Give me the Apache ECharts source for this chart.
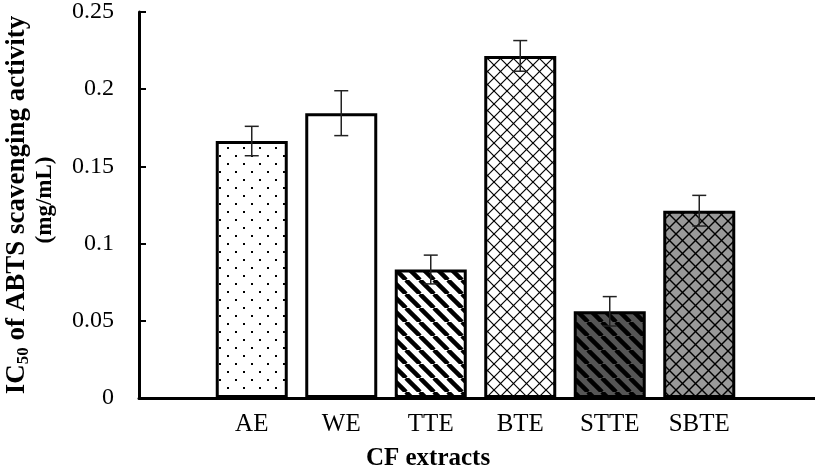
<!DOCTYPE html>
<html>
<head>
<meta charset="utf-8">
<script src="https://cdn.jsdelivr.net/npm/echarts@6/dist/echarts.min.js"></script>
<style>html,body{margin:0;padding:0;background:#fff}#c{width:815px;height:474px}</style>
</head>
<body>
<div id="c"></div>
<script>
const categories = ['AE', 'WE', 'TTE', 'BTE', 'STTE', 'SBTE'];
const values = [0.166, 0.184, 0.083, 0.221, 0.056, 0.121];
const errors = [0.0095, 0.0145, 0.0093, 0.0099, 0.0095, 0.0099];
const yMin = 0, yMax = 0.25, yStep = 0.05;
const xTitle = 'CF extracts';
const yTitleMain = 'IC';
const yTitleSub = '50';
const yTitleRest = ' of ABTS scavenging activity';
const yTitleLine2 = '(mg/mL)';

function makeTile(size, bg, draw) {
  const c = document.createElement('canvas');
  c.width = size; c.height = size;
  const g = c.getContext('2d');
  g.fillStyle = bg; g.fillRect(0, 0, size, size);
  draw(g, size);
  return c;
}
function dots(g, s) {
  g.fillStyle = '#000';
  g.fillRect(3, 3, 2, 2);
  g.fillRect(11, 11, 2, 2);
}
function stripes(w) {
  return function (g, s) {
    g.strokeStyle = '#000'; g.lineWidth = w;
    for (let k = -1; k <= 1; k++) {
      g.beginPath(); g.moveTo(k * s, 0); g.lineTo(k * s + s, s); g.stroke();
    }
  };
}
function cross(w) {
  return function (g, s) {
    g.strokeStyle = '#000'; g.lineWidth = w;
    g.beginPath(); g.moveTo(0, 0); g.lineTo(s, s); g.stroke();
    g.beginPath(); g.moveTo(0, s); g.lineTo(s, 0); g.stroke();
  };
}
const patterns = [
  makeTile(16, '#fff', dots),
  null,
  makeTile(14, '#fff', stripes(4.5)),
  makeTile(13, '#fff', cross(1.2)),
  makeTile(14, '#555', stripes(4.5)),
  makeTile(13, '#999', cross(1.4))
];

const chart = echarts.init(document.getElementById('c'), null, {renderer: 'canvas'});
const serif = 'Liberation Serif, Times New Roman, serif';

const barData = values.map((v, i) => ({
  value: v,
  itemStyle: {
    color: patterns[i] ? {image: patterns[i], repeat: 'repeat'} : '#fff'
  }
}));
const errData = values.map((v, i) => [i, v, errors[i]]);

chart.setOption({
  animation: false,
  backgroundColor: '#fff',
  grid: [
    {left: 139, right: 0, top: 11, bottom: 76},
    {left: 207, width: 537, top: 11, bottom: 76}
  ],
  xAxis: [
    {gridIndex: 0, type: 'category', data: [''],
      axisLine: {show: true, lineStyle: {color: '#000', width: 3}},
      axisTick: {show: false}, axisLabel: {show: false}, splitLine: {show: false}},
    {gridIndex: 1, type: 'category', data: categories,
      axisLine: {show: false}, axisTick: {show: false},
      axisLabel: {color: '#000', fontFamily: serif, fontSize: 25, margin: 14}}
  ],
  yAxis: [
    {gridIndex: 0, type: 'value', min: yMin, max: yMax, interval: yStep,
      axisLine: {show: true, lineStyle: {color: '#000', width: 3}},
      axisTick: {show: true, inside: true, length: 7, lineStyle: {color: '#000', width: 2}},
      axisLabel: {color: '#000', fontFamily: serif, fontSize: 24, margin: 25},
      splitLine: {show: false}},
    {gridIndex: 1, type: 'value', min: yMin, max: yMax, interval: yStep, show: false}
  ],
  series: [
    {type: 'bar', xAxisIndex: 1, yAxisIndex: 1, data: barData, barWidth: 72,
      itemStyle: {borderColor: '#000', borderWidth: 3}},
    {type: 'custom', xAxisIndex: 1, yAxisIndex: 1, data: errData, z: 5,
      renderItem: function (params, api) {
        const i = api.value(0), v = api.value(1), e = api.value(2);
        const hi = api.coord([i, v + e]);
        const lo = api.coord([i, v - e]);
        const cap = 7;
        const st = {stroke: '#222', lineWidth: 1.5};
        return {type: 'group', children: [
          {type: 'line', shape: {x1: hi[0], y1: hi[1], x2: lo[0], y2: lo[1]}, style: st},
          {type: 'line', shape: {x1: hi[0] - cap, y1: hi[1], x2: hi[0] + cap, y2: hi[1]}, style: st},
          {type: 'line', shape: {x1: lo[0] - cap, y1: lo[1], x2: lo[0] + cap, y2: lo[1]}, style: st}
        ]};
      }}
  ],
  graphic: [
    {type: 'text', x: 428, y: 459, style: {text: xTitle, fill: '#000',
      font: 'bold 25px ' + serif, textAlign: 'center', textVerticalAlign: 'middle'}},
    {type: 'text', x: 17, y: 205, rotation: Math.PI / 2, style: {
      text: '{b|' + yTitleMain + '}{s|' + yTitleSub + '}{b|' + yTitleRest + '}',
      textAlign: 'center', textVerticalAlign: 'middle',
      rich: {
        b: {fontFamily: serif, fontWeight: 'bold', fontSize: 27, fill: '#000', color: '#000', lineHeight: 30},
        s: {fontFamily: serif, fontWeight: 'bold', fontSize: 17, fill: '#000', color: '#000', verticalAlign: 'bottom', lineHeight: 22}
      }}},
    {type: 'text', x: 45, y: 200, rotation: Math.PI / 2, style: {text: yTitleLine2, fill: '#000',
      font: 'bold 23px ' + serif, textAlign: 'center', textVerticalAlign: 'middle'}}
  ]
});
</script>
</body>
</html>
